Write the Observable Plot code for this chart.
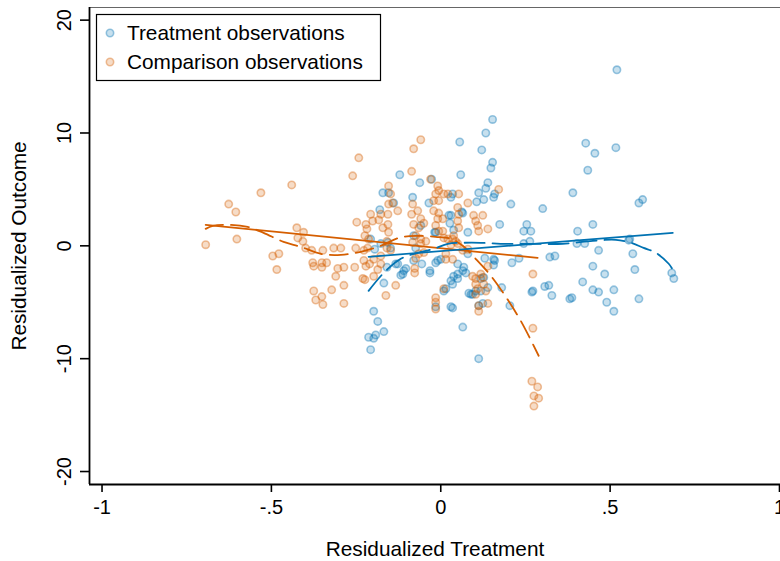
<!DOCTYPE html>
<html><head><meta charset="utf-8">
<script src="https://cdn.jsdelivr.net/npm/d3@7"></script>
<script src="https://cdn.jsdelivr.net/npm/@observablehq/plot@0.6"></script>
<style>
html,body{margin:0;padding:0;background:#fff;overflow:hidden;}
#chart svg{display:block;}
</style></head><body><div id="chart"></div>
<script>
// ---- data ----
const treatX = [0.520,0.153,0.133,0.056,0.121,0.428,0.455,0.517,0.434,0.153,0.148,0.059,-0.121,-0.062,-0.027,-0.171,-0.154,-0.083,0.139,0.133,
  0.112,0.159,0.156,0.106,0.127,0.035,0.030,0.207,-0.035,-0.139,-0.180,0.390,0.585,0.596,0.301,0.404,0.449,0.062,0.024,-0.015,
  0.080,0.174,0.245,0.254,0.266,0.245,0.322,0.337,0.425,0.555,0.567,0.466,0.210,0.159,0.130,0.449,0.573,0.682,0.688,0.484,
  0.419,0.449,0.466,0.511,0.490,0.511,0.585,0.381,0.387,0.328,0.307,0.269,0.204,0.180,0.035,0.065,0.112,0.094,-0.032,-0.112,
  -0.109,-0.168,-0.168,-0.198,-0.186,-0.192,-0.213,-0.198,-0.207,-0.159,-0.127,-0.207,-0.195,-0.177,-0.156,-0.148,-0.133,-0.118,-0.080,-0.059,
  -0.018,0.030,0.027,0.065,-0.080,-0.032,-0.009,0.000,0.050,0.068,0.074,0.050,0.030,0.050,0.035,0.009,0.089,0.118,0.127,0.139,
  0.156,0.272,0.319,-0.015,0.030,-0.015,0.080,0.065,0.156,0.038,0.015,0.083,0.103,0.118,0.112,0.124,0.231,-0.103,-0.056,-0.074,
  0.038,0.263,0.402,0.558];
const treatY = [15.6,11.2,10.0,9.2,8.5,9.1,8.2,8.7,6.7,7.4,6.9,6.3,6.3,5.6,5.9,4.7,4.7,4.3,5.6,5.1,
  4.7,4.6,4.3,3.9,4.1,4.6,4.3,3.7,3.8,3.8,3.2,4.7,3.8,4.1,3.3,1.3,1.9,3.0,2.7,1.2,
  1.2,1.9,1.3,1.9,1.3,0.2,-1.0,-0.9,0.2,0.5,-0.7,-0.4,-1.5,-1.3,-1.1,-1.8,-2.1,-2.4,-2.9,-2.5,
  -3.2,-3.9,-4.1,-3.9,-5.0,-5.8,-4.7,-4.7,-4.6,-4.4,-3.6,-4.1,-5.3,-3.7,-5.5,-7.2,-10.0,-4.3,-2.4,-2.5,
  -2.2,-3.3,-7.6,-5.8,-6.7,-7.9,-8.1,-8.2,-9.2,-1.9,-1.6,0.6,-0.3,0.2,0.3,-0.2,-1.6,-2.6,0.9,1.8,
  1.2,2.7,2.0,2.9,-1.3,-2.2,-1.3,-1.2,-1.6,-1.9,-2.4,-2.5,-3.1,-2.9,-3.4,-4.0,-4.3,-4.0,-2.8,-3.7,
  -1.2,-4.0,-3.5,-5.4,-5.4,-1.5,-0.7,-2.2,-1.7,-2.7,-3.8,-4.2,-4.0,-2.9,-5.3,-5.1,-1.1,-2.0,-1.6,-0.2,
  1.4,0.4,0.2,0.6];

const compX = [-0.694,-0.626,-0.605,-0.602,-0.531,-0.440,-0.496,-0.478,-0.484,-0.425,-0.405,-0.422,-0.407,-0.399,-0.381,-0.348,-0.316,-0.295,-0.378,-0.375,
  -0.351,-0.337,-0.351,-0.304,-0.286,-0.310,-0.286,-0.322,-0.375,-0.369,-0.351,-0.348,-0.286,-0.242,-0.260,-0.248,-0.221,-0.207,-0.218,-0.201,
  -0.183,-0.251,-0.254,-0.227,-0.216,-0.213,-0.227,-0.221,-0.210,-0.198,-0.230,-0.224,-0.198,-0.162,-0.133,-0.154,-0.148,-0.154,-0.156,-0.127,
  -0.171,-0.156,-0.154,-0.159,-0.159,-0.148,-0.177,-0.177,-0.186,-0.059,-0.080,-0.086,0.171,0.080,-0.009,-0.006,-0.015,0.009,0.021,0.053,
  -0.021,-0.006,-0.083,-0.142,-0.030,-0.086,-0.068,-0.059,-0.080,-0.050,-0.065,-0.021,-0.006,-0.009,0.006,-0.015,-0.006,0.006,0.050,0.053,
  0.050,0.053,0.097,0.124,0.103,0.109,0.112,0.139,-0.074,-0.059,-0.044,0.009,0.021,0.035,0.044,0.038,0.050,0.030,-0.083,-0.059,
  -0.065,-0.050,-0.074,-0.077,-0.077,0.015,0.015,0.035,0.065,0.094,0.103,0.118,0.124,0.103,0.109,0.103,0.127,0.133,-0.015,-0.015,
  -0.015,0.009,0.112,0.112,0.139,0.139,0.080,0.272,0.272,0.269,0.286,0.275,0.289,0.275,-0.177,-0.224];
const compY = [0.1,3.7,3.0,0.6,4.7,5.4,-0.9,-0.7,-2.1,1.6,1.2,0.7,0.4,-0.2,-0.4,-0.4,-0.2,-0.2,-1.5,-1.8,
  -1.5,-1.5,-1.9,-2.0,-1.9,-2.7,-3.5,-3.9,-4.0,-4.8,-4.5,-5.2,-5.1,7.8,6.2,2.1,1.9,2.8,1.5,2.2,
  2.3,-0.2,-1.9,-0.4,-0.2,0.6,-1.3,-1.8,-1.6,-1.2,-2.9,-3.0,-2.7,-4.4,-3.5,5.3,4.6,3.7,2.8,3.1,
  1.6,1.9,1.2,0.4,-0.2,-0.4,-0.9,-1.6,-2.1,9.4,8.6,6.6,5.0,3.8,5.3,4.9,4.6,4.6,4.6,4.6,
  4.0,4.0,3.7,3.8,5.9,2.8,3.1,2.4,1.9,2.0,1.6,3.1,2.9,2.4,2.4,1.8,1.3,1.3,3.4,2.8,
  2.2,1.6,2.7,2.7,2.2,1.8,1.3,1.5,0.9,0.6,0.4,0.7,0.6,0.6,0.4,0.9,0.2,0.1,0.3,0.2,
  -0.7,-0.6,-1.1,-2.0,-2.4,-0.7,-1.2,-1.2,-0.4,-2.7,-2.9,-2.5,-2.8,-3.4,-3.8,-4.3,-3.4,-4.0,-4.6,-5.0,
  -5.6,-3.8,-5.3,-5.8,-5.1,-1.8,-0.3,-2.5,-7.3,-12.0,-12.5,-13.3,-13.5,-14.2,2.8,0.9];

// fitted lines
const treatLinX = [-0.213, 0.685];
const treatLinY = [-0.97, 1.15];
const compLinX = [-0.694, 0.286];
const compLinY = [1.86, -1.06];
const treatSmoothX = [-0.213,-0.168,-0.118,-0.068,-0.021,0.021,0.068,0.118,0.177,0.266,0.360,0.449,0.517,0.561,0.599,0.635,0.673,0.685];
const treatSmoothY = [-3.99,-2.39,-1.15,-0.62,-0.27,0.18,0.27,0.27,0.18,0.18,0.18,0.44,0.53,0.27,-0.18,-0.62,-1.59,-2.13];
const compSmoothX = [-0.694,-0.673,-0.620,-0.570,-0.523,-0.464,-0.413,-0.354,-0.295,-0.236,-0.177,-0.124,-0.074,-0.015,0.030,0.065,0.103,0.148,0.192,0.236,0.289];
const compSmoothY = [1.5,1.77,1.86,1.68,1.15,0.35,-0.09,-0.71,-0.80,-0.53,0,0.71,0.89,0.80,0.62,0,-1.15,-2.66,-4.52,-6.64,-9.74];

const xTicks = [-1, -0.5, 0, 0.5, 1];
const xTickLabels = ["-1", "-.5", "0", ".5", "1"];
const yTicks = [-20, -10, 0, 10, 20];
const yTickLabels = ["-20", "-10", "0", "10", "20"];
const seriesNames = ["Treatment observations", "Comparison observations"];
const seriesColors = ["#0072B2", "#D55E00"];
const xTitle = "Residualized Treatment";
const yTitle = "Residualized Outcome";

// ---- build ----
const zip = (xs, ys) => xs.map((x, i) => ({x, y: ys[i]}));
const treat = zip(treatX, treatY);
const comp = zip(compX, compY);
const xDomain = [-1.037, 1.003];
const yDomain = [-21.15, 21.12];
const FONT = "'Liberation Sans', Arial, Helvetica, sans-serif";

const dotStyle = (c) => ({x: "x", y: "y", r: 3.7, fill: c, fillOpacity: 0.22, stroke: c, strokeOpacity: 0.38, strokeWidth: 1.6});

const plot = Plot.plot({
  width: 780, height: 561,
  marginLeft: 89, marginRight: 0, marginTop: 7, marginBottom: 77,
  x: {domain: xDomain},
  y: {domain: yDomain},
  style: {fontFamily: FONT, fontSize: "20px", color: "#000", background: "#fff"},
  marks: [
    Plot.ruleY([yDomain[1]], {stroke: "#666", strokeWidth: 1}),
    Plot.axisX(xTicks, {tickSize: 8, tickPadding: 7, strokeWidth: 1.6, tickFormat: (d) => xTickLabels[xTicks.indexOf(d)], label: null, fontSize: 20}),
    Plot.axisY(yTicks, {tickSize: 9, strokeWidth: 1.6, tickFormat: () => "", label: null}),
    Plot.text(yTicks, {y: (d) => d, frameAnchor: "left", dx: -25, rotate: -90, textAnchor: "middle", lineAnchor: "middle", text: (d) => yTickLabels[yTicks.indexOf(d)], fontSize: 20, fill: "#000"}),
    Plot.ruleX([xDomain[0]], {stroke: "#000", strokeWidth: 1.8}),
    Plot.ruleY([yDomain[0]], {stroke: "#000", strokeWidth: 1.8}),
    Plot.text([xTitle], {frameAnchor: "bottom", dy: 65, textAnchor: "middle", lineAnchor: "middle", text: (d) => d, fontSize: 20.8, fill: "#000"}),
    Plot.text([yTitle], {frameAnchor: "left", dx: -70, rotate: -90, textAnchor: "middle", lineAnchor: "middle", text: (d) => d, fontSize: 20.8, fill: "#000"}),
    Plot.dot(treat, dotStyle(seriesColors[0])),
    Plot.dot(comp, dotStyle(seriesColors[1])),
    Plot.line(zip(compLinX, compLinY), {x: "x", y: "y", stroke: seriesColors[1], strokeWidth: 1.8}),
    Plot.line(zip(compSmoothX, compSmoothY), {x: "x", y: "y", stroke: seriesColors[1], strokeWidth: 1.8, strokeDasharray: "18,8", curve: "catmull-rom"}),
    Plot.line(zip(treatLinX, treatLinY), {x: "x", y: "y", stroke: seriesColors[0], strokeWidth: 1.8}),
    Plot.line(zip(treatSmoothX, treatSmoothY), {x: "x", y: "y", stroke: seriesColors[0], strokeWidth: 1.8, strokeDasharray: "20,8", curve: "catmull-rom"})
  ]
});

// legend inside the plot area
const svg = d3.select(plot);
const lg = svg.append("g").attr("font-family", FONT).attr("font-size", 20.8).attr("text-anchor", "start");
lg.append("rect").attr("x", 96.5).attr("y", 14.5).attr("width", 284).attr("height", 66)
  .attr("fill", "#fff").attr("stroke", "#000").attr("stroke-width", 1.2);
seriesNames.forEach((name, i) => {
  const cy = 33 + i * 29;
  lg.append("circle").attr("cx", 110).attr("cy", cy).attr("r", 3.7)
    .attr("fill", seriesColors[i]).attr("fill-opacity", 0.22)
    .attr("stroke", seriesColors[i]).attr("stroke-opacity", 0.38).attr("stroke-width", 1.6);
  lg.append("text").attr("x", 127).attr("y", cy).attr("dy", "0.35em").attr("text-anchor", "start").attr("fill", "#000").text(name);
});

document.getElementById("chart").appendChild(plot);
</script>
</body></html>
